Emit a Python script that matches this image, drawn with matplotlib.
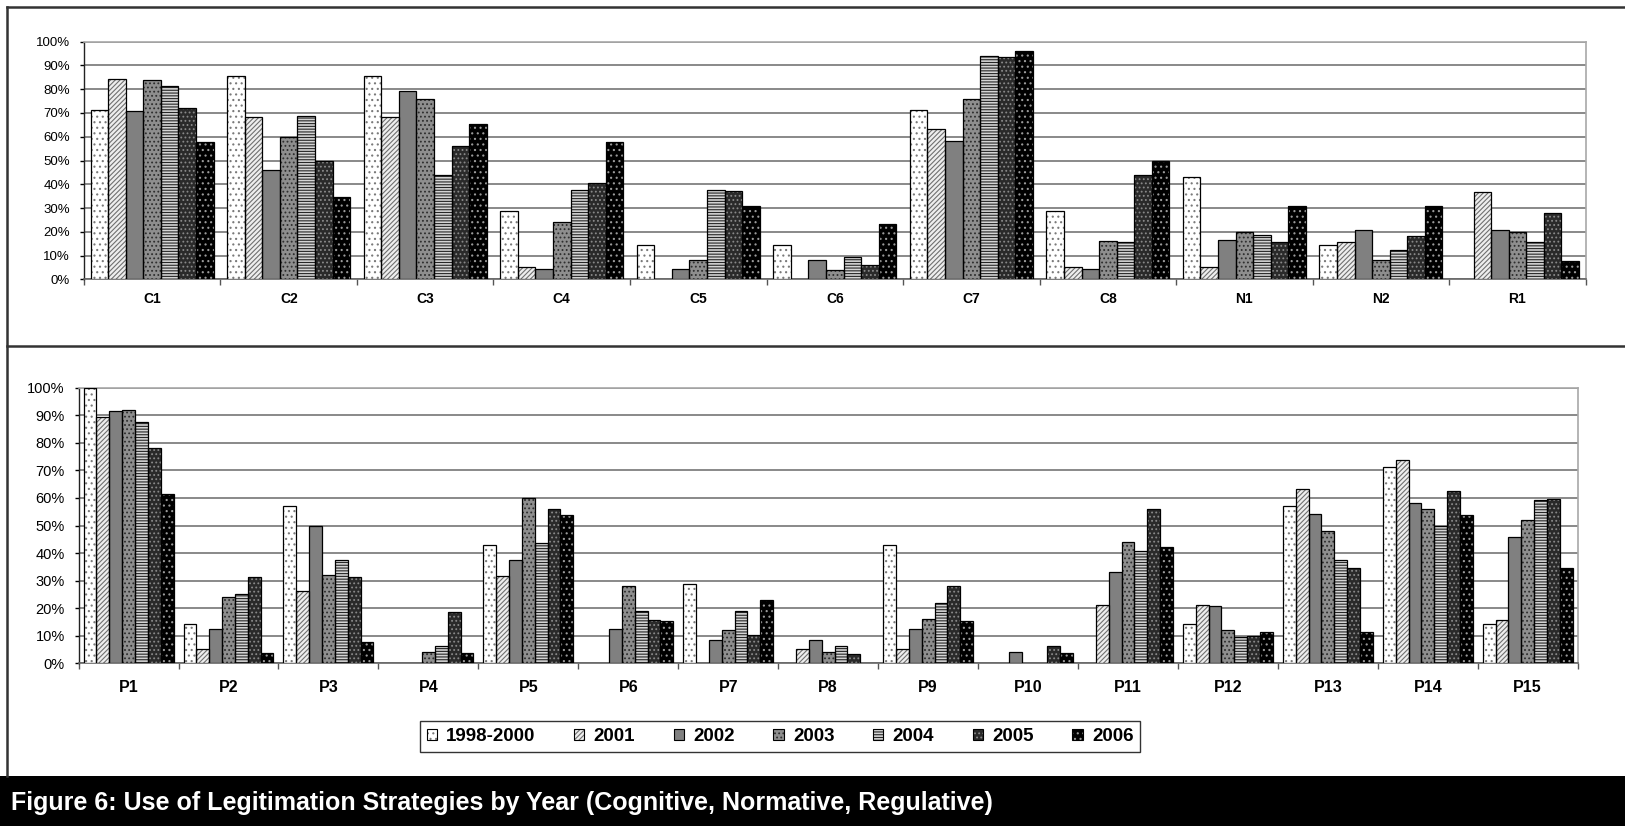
import numpy as np
import matplotlib
matplotlib.use("Agg")
import matplotlib.pyplot as plt
from matplotlib.patches import Patch, Rectangle
from matplotlib.lines import Line2D
from matplotlib.ticker import PercentFormatter, FixedLocator

plt.rcParams['font.family'] = ['Liberation Sans', 'DejaVu Sans']
plt.rcParams['hatch.linewidth'] = 0.8

years = ["1998-2000", "2001", "2002", "2003", "2004", "2005", "2006"]

top_cats = ["C1", "C2", "C3", "C4", "C5", "C6", "C7", "C8", "N1", "N2", "R1"]
bottom_cats = ["P1", "P2", "P3", "P4", "P5", "P6", "P7", "P8", "P9", "P10",
               "P11", "P12", "P13", "P14", "P15"]

# Werte in Prozent (oberes Diagramm)
top_1998 = [71.4, 85.7, 85.7, 28.6, 14.3, 14.3, 71.4, 28.6, 42.9, 14.3, 0]
top_2001 = [84.2, 68.4, 68.4, 5.3, 0, 0, 63.2, 5.3, 5.3, 15.8, 36.8]
top_2002 = [70.8, 45.8, 79.2, 4.2, 4.2, 8.3, 58.3, 4.2, 16.7, 20.8, 20.8]
top_2003 = [84.0, 60.0, 76.0, 24.0, 8.0, 4.0, 76.0, 16.0, 20.0, 8.0, 20.0]
top_2004 = [81.3, 68.8, 43.8, 37.5, 37.5, 9.4, 93.8, 15.6, 18.8, 12.5, 15.6]
top_2005 = [72.2, 50.0, 56.1, 40.7, 37.3, 6.0, 93.7, 43.9, 15.6, 18.4, 27.9]
top_2006 = [57.7, 34.6, 65.4, 57.7, 30.8, 23.1, 96.2, 50.0, 30.8, 30.8, 7.7]

# unteres Diagramm
bot_1998 = [100, 14.3, 57.1, 0, 42.9, 0, 28.6, 0, 42.9, 0, 0, 14.3, 57.1, 71.4, 14.3]
bot_2001 = [89.5, 5.3, 26.3, 0, 31.6, 0, 0, 5.3, 5.3, 0, 21.1, 21.1, 63.2, 73.7, 15.8]
bot_2002 = [91.7, 12.5, 50.0, 0, 37.5, 12.5, 8.3, 8.3, 12.5, 4.2, 33.3, 20.8, 54.2, 58.3, 45.8]
bot_2003 = [92.0, 24.0, 32.0, 4.0, 60.0, 28.0, 12.0, 4.0, 16.0, 0, 44.0, 12.0, 48.0, 56.0, 52.0]
bot_2004 = [87.5, 25.0, 37.5, 6.3, 43.8, 18.8, 18.8, 6.3, 21.9, 0, 40.6, 9.4, 37.5, 50.0, 59.4]
bot_2005 = [78.1, 31.2, 31.2, 18.7, 56.1, 15.7, 10.2, 3.3, 28.2, 6.3, 56.0, 9.9, 34.5, 62.5, 59.7]
bot_2006 = [61.5, 3.8, 7.7, 3.8, 53.8, 15.4, 23.1, 0, 15.4, 3.8, 42.3, 11.5, 11.5, 53.8, 34.6]

top_series = [top_1998, top_2001, top_2002, top_2003, top_2004, top_2005, top_2006]
bot_series = [bot_1998, bot_2001, bot_2002, bot_2003, bot_2004, bot_2005, bot_2006]

# Fuellung, Schraffur, Schraffurfarbe je Jahr
year_styles = [
    ("white", "...", "#7a7a7a"),
    ("#eeeeee", "///////", "#707070"),
    ("#808080", "", "#808080"),
    ("#8e8e8e", "....", "#2e2e2e"),
    ("#d4d4d4", "------", "#262626"),
    ("#2a2a2a", "....", "#8a8a8a"),
    ("black", "...", "#9a9a9a"),
]


def draw_panel(ax, cats, series, cat_size, tick_size, cat_pad):
    n = len(cats)
    x = np.arange(n)
    w = 0.9 / len(series)
    for i, vals in enumerate(series):
        fc, hatch, hc = year_styles[i]
        pos = x - 0.45 + w * (i + 0.5)
        v = np.array(vals) / 100.0
        filled = ax.bar(pos, v, w, color=fc, hatch=hatch, edgecolor=hc,
                        linewidth=0, zorder=3)
        outline = ax.bar(pos, v, w, fill=False, edgecolor="black",
                         linewidth=0.9, zorder=4)
        for r1, r2, val in zip(filled, outline, v):
            if val == 0:
                r1.set_visible(False)
                r2.set_visible(False)

    ax.set_xlim(-0.5, n - 0.5)
    ax.set_ylim(0, 1)
    ax.set_yticks(np.arange(0, 1.01, 0.1))
    ax.yaxis.set_major_formatter(PercentFormatter(1.0, decimals=0))
    ax.set_xticks(x)
    ax.set_xticklabels(cats, fontsize=cat_size, fontweight="bold")
    ax.xaxis.set_minor_locator(FixedLocator(np.arange(n + 1) - 0.5))
    ax.tick_params(axis="x", which="major", length=0, pad=cat_pad)
    ax.tick_params(axis="x", which="minor", length=4, width=1, color="#555555")
    ax.tick_params(axis="y", length=3, width=1, pad=7, labelsize=tick_size)
    ax.yaxis.grid(True, color="#808080", linewidth=1.3)
    ax.set_axisbelow(True)
    ax.spines["left"].set_color("#222222")
    ax.spines["left"].set_linewidth(1.0)
    ax.spines["bottom"].set_color("#666666")
    ax.spines["bottom"].set_linewidth(1.2)
    for s in ("top", "right"):
        ax.spines[s].set_color("#a8a8a8")
        ax.spines[s].set_linewidth(1.2)


W, H = 1625, 826
fig = plt.figure(figsize=(W / 100, H / 100), dpi=100)


def fx(px):
    return px / W


def fy(py):
    return 1 - py / H


ax_top = fig.add_axes([fx(83.9), fy(279.3), fx(1585.7) - fx(83.9), fy(41.7) - fy(279.3)])
draw_panel(ax_top, top_cats, top_series, 10, 9.5, 9.5)

ax_bot = fig.add_axes([fx(78.6), fy(663.3), fx(1577.7) - fx(78.6), fy(387.7) - fy(663.3)])
draw_panel(ax_bot, bottom_cats, bot_series, 11.5, 10.5, 12)

# Rahmenlinien der beiden Felder
frame_kw = dict(transform=fig.transFigure, color="#333333", linewidth=1.8)
fig.add_artist(Line2D([fx(7), 1.01], [fy(7), fy(7)], **frame_kw))
fig.add_artist(Line2D([fx(7), 1.01], [fy(346), fy(346)], **frame_kw))
fig.add_artist(Line2D([fx(7), fx(7)], [fy(7), fy(776)], **frame_kw))

# Legende
handles = []
for fc, hatch, hc in year_styles:
    handles.append((Patch(facecolor=fc, hatch=hatch, edgecolor=hc, linewidth=0),
                    Patch(fill=False, edgecolor="black", linewidth=0.8)))
leg = fig.legend(handles, years, loc="center", bbox_to_anchor=(fx(780), fy(736.5)),
                 ncol=7, frameon=True, fancybox=False, edgecolor="black",
                 prop={"size": 13.5, "weight": "bold"}, handlelength=0.55,
                 handleheight=0.55, handletextpad=0.5, columnspacing=2.05,
                 borderpad=0.35)
leg.get_frame().set_linewidth(1.0)

# Titelband
fig.add_artist(Rectangle((0, 0), 1, fy(776), transform=fig.transFigure,
                         facecolor="black", edgecolor="none"))
fig.text(fx(11), fy(810),
         "Figure 6: Use of Legitimation Strategies by Year (Cognitive, Normative, Regulative)",
         color="white", fontsize=18, fontweight="bold", ha="left", va="baseline")

fig.savefig("out.png", dpi=100)
